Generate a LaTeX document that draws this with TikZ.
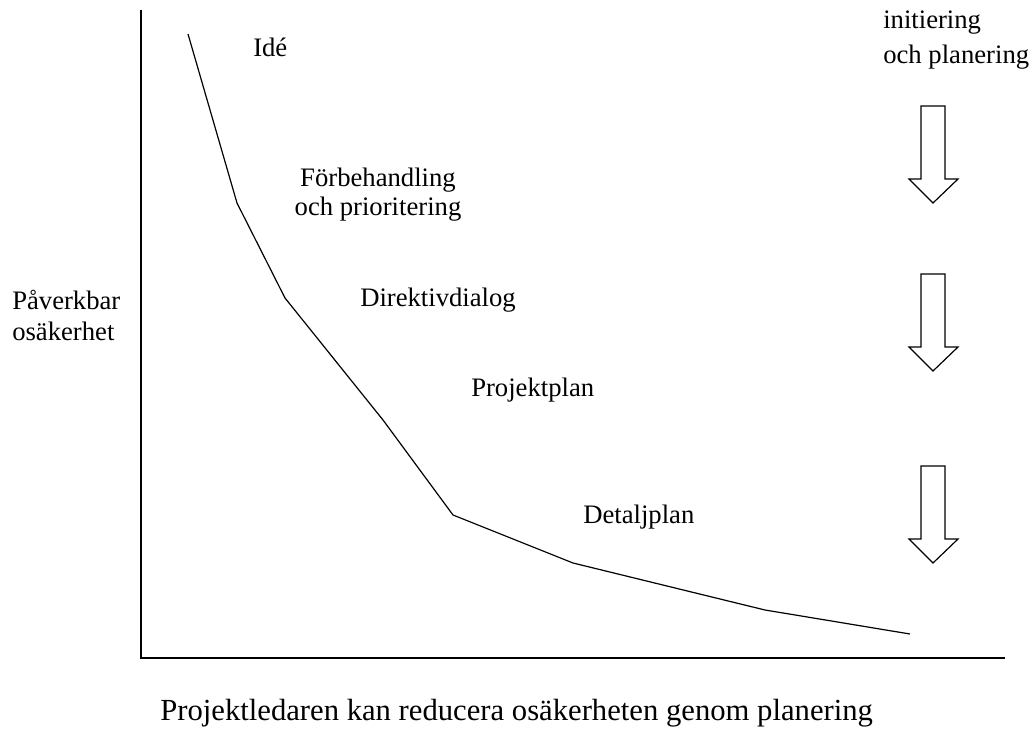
\documentclass[tikz,border=0pt]{standalone}
\usepackage{fontspec}
\setmainfont{Liberation Serif}
\usetikzlibrary{positioning}
\tikzset{
  lbl/.style={font=\fontsize{20}{24}\selectfont,inner sep=0pt},
  axis/.style={line width=1.2pt},
  trend/.style={line width=0.9pt},
  downarrow/.style={line width=0.9pt,line join=miter}
}

\begin{document}
\begin{tikzpicture}[x=0.75pt,y=-0.75pt]
        \useasboundingbox (0,0) rectangle (1036,742);
        % axes
        \coordinate (ytop) at (141,10);
        \coordinate (origin) at (141,658);
        \coordinate (xend) at (1005,658);
        \draw[axis] (ytop) -- (origin) -- (xend);
        % uncertainty curve
        \coordinate (p1) at (188,34);
        \coordinate (p2) at (237,203);
        \coordinate (p3) at (285,298);
        \coordinate (p4) at (383,420);
        \coordinate (p5) at (453,515);
        \coordinate (p6) at (573,563);
        \coordinate (p7) at (765,610);
        \coordinate (p8) at (910,634);
        \draw[trend] (p1) -- (p2) -- (p3) -- (p4) -- (p5) -- (p6) -- (p7) -- (p8);
        % phases
        \node[lbl,anchor=west] (ide) at (253,47) {Idé};
        \node[lbl] (forb) at (378,180) {Förbehandling};
        \node[lbl] (forb2) at (378,209) {och prioritering};
        \node[lbl,anchor=west] (direktiv) at (360,300) {Direktivdialog};
        \node[lbl,anchor=west] (projplan) at (471,390) {Projektplan};
        \node[lbl,anchor=west] (detalj) at (583,517) {Detaljplan};
        \node[lbl,anchor=west] (init) at (883,23) {initiering};
        \node[lbl,anchor=west] (init2) at (883,57) {och planering};
        \node[lbl,anchor=west] (yl) at (12,300) {Påverkbar};
        \node[lbl,anchor=west] (yl2) at (12,331) {osäkerhet};
        \node[lbl,anchor=west,font=\fontsize{23}{27}\selectfont] (xl) at (160,713)
          {Projektledaren kan reducera osäkerheten genom planering};
        % block arrows
        \foreach \y in {106,274,466}
          \draw[downarrow] (921,\y) -- (945,\y) -- (945,\y+73) -- (958,\y+73)
            -- (933,\y+97) -- (909,\y+73) -- (921,\y+73) -- cycle;
      \end{tikzpicture}
\end{document}
